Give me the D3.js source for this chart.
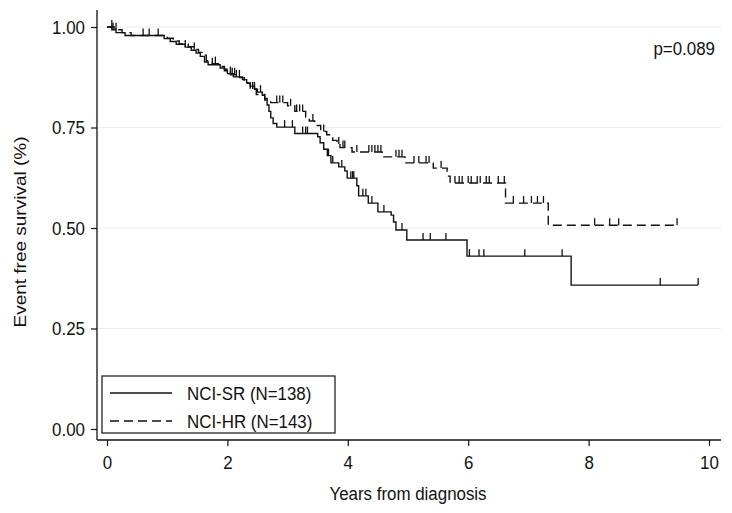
<!DOCTYPE html>
<html>
<head>
<meta charset="utf-8">
<script src="https://cdn.jsdelivr.net/npm/d3@7"></script>
<style>
  html, body { margin: 0; padding: 0; background: #fff; }
  svg { display: block; }
  text { font-family: "Liberation Sans", Arial, sans-serif; fill: #111; }
</style>
</head>
<body>
<svg id="chart" width="732" height="513"></svg>
<script>
// ---- data ----
const xTicks = [0, 2, 4, 6, 8, 10];
const yTicks = [0, 0.25, 0.5, 0.75, 1];
const yTickLabels = ["0.00", "0.25", "0.50", "0.75", "1.00"];

const seriesNames = ["NCI-SR (N=138)", "NCI-HR (N=143)"];
const pValueLabel = "p=0.089";

// NCI-SR (solid)
const srEventTimes = [0.08, 0.15, 0.30, 0.95, 1.05, 1.15, 1.30, 1.40, 1.48, 1.55, 1.62, 1.68, 1.88, 1.95, 2.00, 2.10, 2.25, 2.32, 2.38, 2.45, 2.50, 2.58, 2.62, 2.66, 2.69, 2.72, 2.76, 2.82, 3.12, 3.50, 3.54, 3.60, 3.66, 3.72, 3.85, 3.95, 3.99, 4.15, 4.18, 4.34, 4.50, 4.72, 4.76, 4.80, 4.98, 5.98, 7.71];
const srEventSurv  = [0.993, 0.986, 0.979, 0.971, 0.964, 0.957, 0.950, 0.942, 0.935, 0.927, 0.913, 0.906, 0.898, 0.891, 0.884, 0.876, 0.869, 0.861, 0.853, 0.845, 0.838, 0.830, 0.822, 0.806, 0.790, 0.774, 0.760, 0.751, 0.735, 0.727, 0.712, 0.696, 0.680, 0.662, 0.652, 0.642, 0.624, 0.605, 0.580, 0.562, 0.540, 0.532, 0.515, 0.495, 0.470, 0.430, 0.358];
const srCensorTimes = [0.10, 0.60, 0.85, 1.30, 1.75, 2.05, 2.15, 2.20, 2.55, 2.95, 3.08, 3.25, 3.30, 3.33, 3.68, 3.75, 3.90, 4.05, 4.08, 4.10, 4.25, 4.30, 4.40, 4.60, 4.90, 5.25, 5.37, 5.63, 6.02, 6.18, 6.26, 6.94, 7.56, 9.19, 9.82];
const srEndTime = 9.82;

// NCI-HR (dashed)
const hrEventTimes = [0.12, 0.25, 0.40, 1.00, 1.10, 1.20, 1.35, 1.45, 1.52, 1.60, 1.65, 1.75, 1.85, 1.95, 2.05, 2.20, 2.28, 2.38, 2.48, 2.62, 2.72, 3.00, 3.12, 3.30, 3.36, 3.45, 3.55, 3.65, 3.75, 3.82, 3.87, 4.07, 4.57, 4.95, 5.42, 5.65, 5.70, 6.62, 7.33];
const hrEventSurv  = [0.993, 0.986, 0.979, 0.972, 0.965, 0.958, 0.951, 0.944, 0.937, 0.930, 0.916, 0.909, 0.902, 0.895, 0.881, 0.874, 0.860, 0.846, 0.832, 0.818, 0.812, 0.804, 0.790, 0.776, 0.766, 0.755, 0.740, 0.732, 0.718, 0.709, 0.700, 0.689, 0.677, 0.662, 0.649, 0.629, 0.612, 0.562, 0.507];
const hrCensorTimes = [0.08, 0.15, 0.70, 1.45, 1.80, 2.08, 2.12, 2.42, 2.45, 2.82, 2.87, 2.92, 3.05, 3.15, 3.20, 3.25, 3.42, 3.60, 3.85, 3.92, 3.95, 4.15, 4.35, 4.40, 4.45, 4.50, 4.55, 4.80, 4.85, 4.90, 5.10, 5.18, 5.30, 5.35, 5.55, 5.78, 5.85, 5.90, 6.00, 6.05, 6.15, 6.20, 6.30, 6.35, 6.50, 6.60, 6.75, 6.92, 7.05, 7.15, 7.25, 8.10, 8.35, 8.50, 9.47];
const hrEndTime = 9.47;

// ---- layout ----
const svg = d3.select("#chart");
const plot = { left: 97, right: 721, top: 10, bottom: 440 };
const x = d3.scaleLinear().domain([0, 10]).range([107, 709]);
const y = d3.scaleLinear().domain([0, 1]).range([429, 27]);
const FS = 19;
const SQ = 0.89; // horizontal condensing of the text, as in the reference

// convert a text's x/y into a translate + horizontal squeeze
function squeeze(sel) {
  sel.each(function () {
    const t = d3.select(this);
    const tx = +t.attr("x") || 0, ty = +t.attr("y") || 0;
    t.attr("x", 0).attr("y", 0)
     .attr("transform", `translate(${tx},${ty}) scale(${SQ},1)`);
  });
}

// gridlines
svg.append("g").selectAll("line")
  .data(yTicks.filter(d => d > 0))
  .join("line")
  .attr("x1", plot.left + 1).attr("x2", plot.right)
  .attr("y1", d => y(d)).attr("y2", d => y(d))
  .attr("stroke", "#ececec").attr("stroke-width", 1);

// axes
const yAxis = d3.axisLeft(y).tickValues(yTicks).tickSize(6).tickPadding(6)
  .tickFormat((d, i) => yTickLabels[i]);
const gy = svg.append("g").attr("transform", `translate(${plot.left},0)`).call(yAxis);
gy.select(".domain").remove();
gy.selectAll("text").attr("font-size", FS).attr("font-family", '"Liberation Sans", Arial, sans-serif').attr("fill", "#111").call(squeeze);
gy.selectAll("line").attr("stroke", "#111").attr("stroke-width", 1.2);

const xAxis = d3.axisBottom(x).tickValues(xTicks).tickSize(6).tickPadding(9).tickFormat(d3.format("d"));
const gx = svg.append("g").attr("transform", `translate(0,${plot.bottom})`).call(xAxis);
gx.select(".domain").remove();
gx.selectAll("text").attr("font-size", FS).attr("font-family", '"Liberation Sans", Arial, sans-serif').attr("fill", "#111").call(squeeze);
gx.selectAll("line").attr("stroke", "#111").attr("stroke-width", 1.2);

svg.append("line").attr("x1", plot.left).attr("x2", plot.left)
  .attr("y1", plot.top).attr("y2", plot.bottom)
  .attr("stroke", "#111").attr("stroke-width", 1.3);
svg.append("line").attr("x1", plot.left).attr("x2", plot.right)
  .attr("y1", plot.bottom).attr("y2", plot.bottom)
  .attr("stroke", "#111").attr("stroke-width", 1.3);

// axis titles
svg.append("text").attr("x", 408).attr("y", 500).attr("text-anchor", "middle")
  .attr("font-size", FS).text("Years from diagnosis").call(squeeze);
svg.append("text").attr("transform", `translate(26,232) rotate(-90) scale(1,${SQ})`)
  .attr("text-anchor", "middle").attr("font-size", FS).text("Event free survival (%)");

// p value
svg.append("text").attr("x", 715).attr("y", 55).attr("text-anchor", "end")
  .attr("font-size", FS).text(pValueLabel).call(squeeze);

// ---- curves ----
function buildSteps(times, surv, endTime) {
  const pts = [[0, 1]];
  times.forEach((t, i) => pts.push([t, surv[i]]));
  pts.push([endTime, surv[surv.length - 1]]);
  return pts;
}
function survAt(times, surv, t) {
  let s = 1;
  for (let i = 0; i < times.length; i++) { if (times[i] <= t) s = surv[i]; else break; }
  return s;
}
const line = d3.line().x(d => x(d[0])).y(d => y(d[1])).curve(d3.curveStepAfter);

const series = [
  { times: srEventTimes, surv: srEventSurv, cens: srCensorTimes, end: srEndTime, dash: null },
  { times: hrEventTimes, surv: hrEventSurv, cens: hrCensorTimes, end: hrEndTime, dash: "9,5" }
];

series.forEach(s => {
  const g = svg.append("g");
  g.append("path").datum(buildSteps(s.times, s.surv, s.end))
    .attr("d", line).attr("fill", "none").attr("stroke", "#111")
    .attr("stroke-width", 1.4).attr("stroke-dasharray", s.dash);
  g.selectAll("line.cens").data(s.cens).join("line").attr("class", "cens")
    .attr("x1", d => x(d)).attr("x2", d => x(d))
    .attr("y1", d => y(survAt(s.times, s.surv, d)))
    .attr("y2", d => y(survAt(s.times, s.surv, d)) - 7)
    .attr("stroke", "#111").attr("stroke-width", 1.3);
});

// ---- legend ----
const lg = svg.append("g");
lg.append("rect").attr("x", 102).attr("y", 376).attr("width", 233).attr("height", 57)
  .attr("fill", "#fff").attr("stroke", "#111").attr("stroke-width", 1.2);
const legendRows = [393, 421];
seriesNames.forEach((name, i) => {
  lg.append("line").attr("x1", 110).attr("x2", 172)
    .attr("y1", legendRows[i]).attr("y2", legendRows[i])
    .attr("stroke", "#111").attr("stroke-width", 1.3)
    .attr("stroke-dasharray", series[i].dash);
  lg.append("text").attr("x", 187).attr("y", legendRows[i] + 7)
    .attr("font-size", FS).text(name).call(squeeze);
});
</script>
</body>
</html>
